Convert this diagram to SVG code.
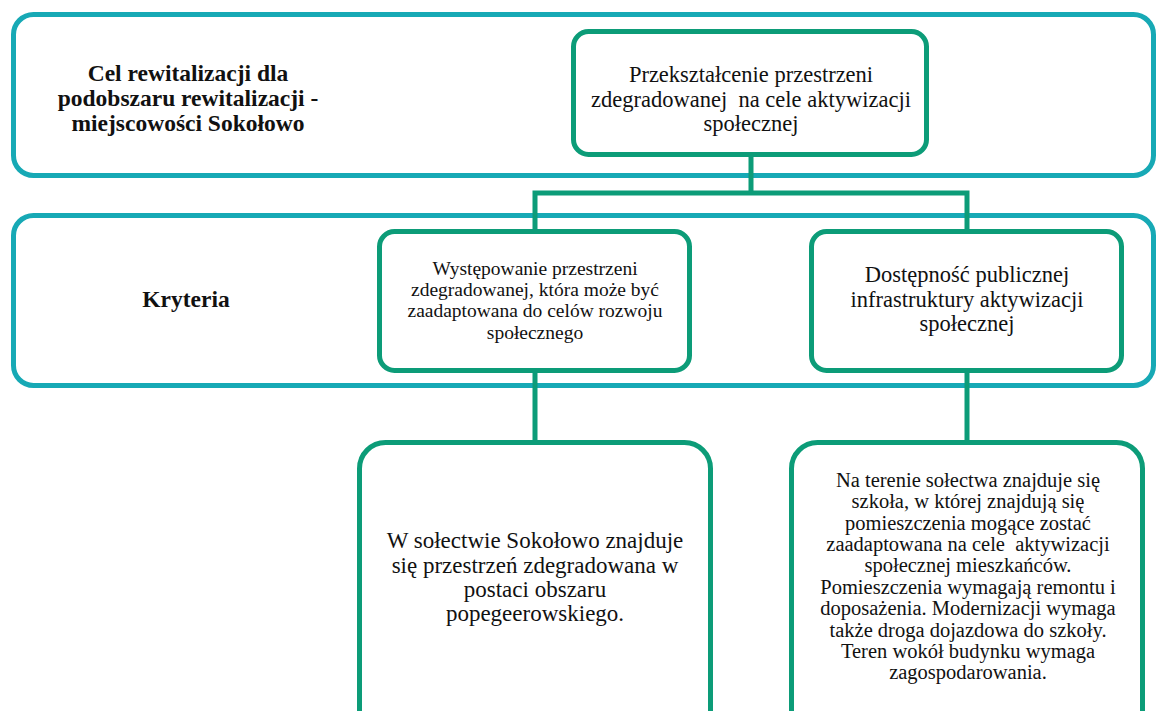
<svg xmlns="http://www.w3.org/2000/svg" width="1157" height="711" viewBox="0 0 1157 711">
<style>
.outer{fill:#fff;stroke:#17A9B5;stroke-width:5}
.box{fill:#fff;stroke:#0C9C78;stroke-width:5}
.conn{fill:none;stroke:#0C9C78;stroke-width:5}
.t{fill:#111;text-anchor:middle;white-space:pre}
.b{font-weight:bold;font-size:23.5px}
</style>
<rect width="1157" height="711" fill="#fff"/>
<g font-family="'Liberation Serif', 'Times New Roman', 'DejaVu Serif', serif">
<g id="band1"><rect class="outer" x="13.5" y="14.5" width="1140" height="161" rx="20"/>
<text class="t b" x="188" y="81">Cel rewitalizacji dla</text>
<text class="t b" x="188" y="106">podobszaru rewitalizacji -</text>
<text class="t b" x="188" y="131">miejscowości Sokołowo</text></g>
<g id="band2"><rect class="outer" x="13.5" y="215.5" width="1140" height="170" rx="20"/>
<text class="t b" x="186" y="307" font-size="23">Kryteria</text></g>
<g id="connectors">
<path class="conn" d="M751 155V193M535 231V193H967V231"/>
<path class="conn" d="M535 371V442M967 371V442"/>
</g>
<g id="goal"><rect class="box" x="573.5" y="31.5" width="353" height="123" rx="15"/>
<text class="t" font-size="22.5" x="751" y="82">Przekształcenie przestrzeni</text>
<text class="t" font-size="22.5" x="751" y="107">zdegradowanej  na cele aktywizacji</text>
<text class="t" font-size="22.5" x="751" y="131">społecznej</text></g>
<g id="critA"><rect class="box" x="379.5" y="231.5" width="310" height="139" rx="15"/>
<text class="t" font-size="19.5" x="535" y="275">Występowanie przestrzeni</text>
<text class="t" font-size="19.5" x="535" y="296">zdegradowanej, która może być</text>
<text class="t" font-size="19.5" x="535" y="317">zaadaptowana do celów rozwoju</text>
<text class="t" font-size="19.5" x="535" y="339">społecznego</text></g>
<g id="critB"><rect class="box" x="811.5" y="231.5" width="310" height="139" rx="15"/>
<text class="t" font-size="22.5" x="967" y="282">Dostępność publicznej</text>
<text class="t" font-size="22.5" x="967" y="307">infrastruktury aktywizacji</text>
<text class="t" font-size="22.5" x="967" y="331">społecznej</text></g>
<g id="descA"><rect class="box" x="359.5" y="442.5" width="351" height="300" rx="26"/>
<text class="t" font-size="23" x="535" y="548">W sołectwie Sokołowo znajduje</text>
<text class="t" font-size="23" x="535" y="573">się przestrzeń zdegradowana w</text>
<text class="t" font-size="23" x="535" y="597">postaci obszaru</text>
<text class="t" font-size="23" x="535" y="621">popegeerowskiego.</text></g>
<g id="descB"><rect class="box" x="791.5" y="442.5" width="351" height="300" rx="26"/>
<text class="t" font-size="20.5" x="968" y="487">Na terenie sołectwa znajduje się</text>
<text class="t" font-size="20.5" x="968" y="508">szkoła, w której znajdują się</text>
<text class="t" font-size="20.5" x="968" y="530">pomieszczenia mogące zostać</text>
<text class="t" font-size="20.5" x="968" y="551">zaadaptowana na cele  aktywizacji</text>
<text class="t" font-size="20.5" x="968" y="572">społecznej mieszkańców.</text>
<text class="t" font-size="20.5" x="968" y="594">Pomieszczenia wymagają remontu i</text>
<text class="t" font-size="20.5" x="968" y="615">doposażenia. Modernizacji wymaga</text>
<text class="t" font-size="20.5" x="968" y="637">także droga dojazdowa do szkoły.</text>
<text class="t" font-size="20.5" x="968" y="658">Teren wokół budynku wymaga</text>
<text class="t" font-size="20.5" x="968" y="679">zagospodarowania.</text></g>
</g>
</svg>
